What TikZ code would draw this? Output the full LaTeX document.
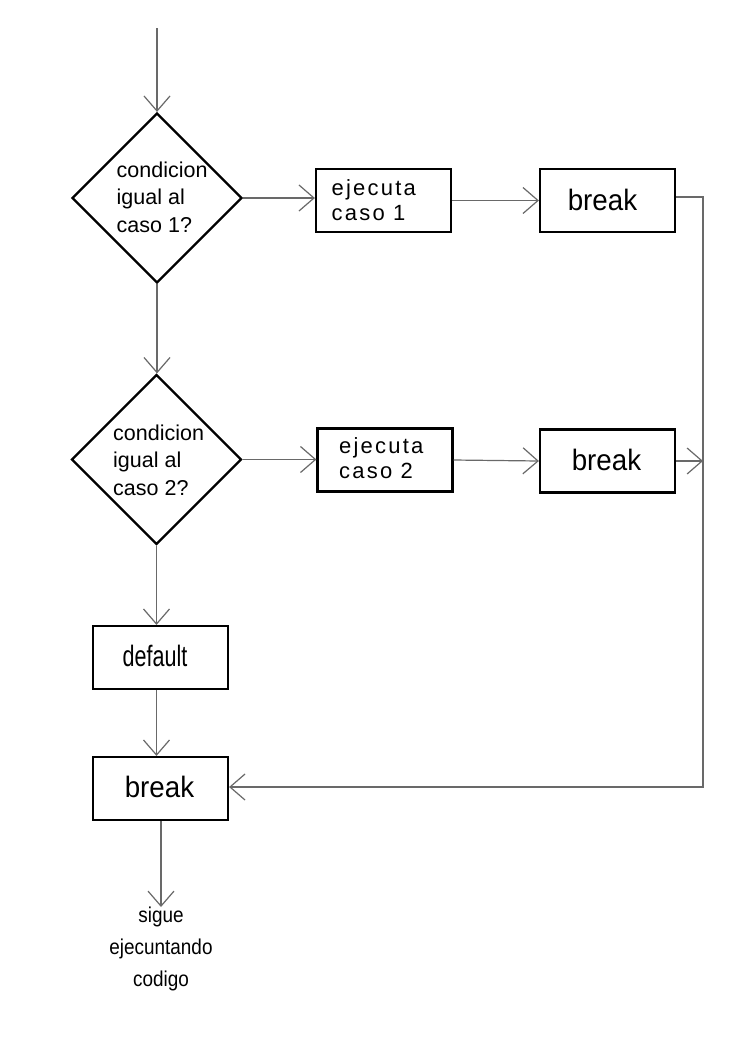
\documentclass[tikz,border=0pt]{standalone}
\usepackage{fontspec}
\setmainfont{Liberation Sans}
\newfontfamily\spacedfont[LetterSpace=10]{Liberation Sans}
\usetikzlibrary{shapes.geometric,arrows.meta}
\definecolor{linegray}{RGB}{105,105,105}
\begin{document}
\begin{tikzpicture}[x=1pt,y=-1pt,
  conn/.style={draw=linegray,line width=1.2pt},
  arr/.style={conn,-{Straight Barb[length=15pt,width=26pt,line width=1.2pt]}},
  decision/.style={diamond,draw,line width=2.2pt,minimum width=170pt,minimum height=170pt,inner sep=0pt,aspect=1},
  proc/.style={rectangle,draw,line width=2.2pt,minimum width=135pt,minimum height=63pt,inner sep=0pt},
  qtext/.style={inner sep=0pt,align=left,anchor=base west,font=\fontsize{21.5}{27.3}\selectfont},
  etext/.style={inner sep=0pt,align=left,anchor=base west,font=\spacedfont\fontsize{22}{25}\selectfont},
  btext/.style={inner sep=0pt,anchor=base,font=\fontsize{29.5}{34}\selectfont},
  endtext/.style={inner sep=0pt,align=center,anchor=north,font=\fontsize{21.5}{32}\selectfont}
]
\fill[white] (0,0) rectangle (745,1053);
\useasboundingbox (0,0) rectangle (745,1053);

% shapes
\node[decision] (d1) at (157,198) {};
\node[decision] (d2) at (156.5,459.5) {};
\node[proc] (e1) at (383.5,200.5) {};
\node[proc] (e2) at (385,460) {};
\node[proc] (b1) at (607.5,200.5) {};
\node[proc] (b2) at (607.5,461) {};
\node[proc] (def) at (160.5,657.5) {};
\node[proc] (b3) at (160.5,788.5) {};

% texts (base anchor = baseline of the last line)
\node[qtext] (q1) at (116.5,232) {condicion\\igual al\\caso 1?};
\node[qtext] (q2) at (113,495) {condicion\\igual al\\caso 2?};
\node[etext] (t1) at (331.5,220) {ejecuta\\caso 1};
\node[etext] (t2) at (339,478) {ejecuta\\caso 2};
\node[btext] (tb1) at (602.5,210) {\scalebox{0.94}[1]{break}};
\node[btext] (tb2) at (606.5,470) {\scalebox{0.94}[1]{break}};
\node[btext] (tb3) at (159.5,797) {\scalebox{0.94}[1]{break}};
\node[btext] (td) at (155,666) {\scalebox{0.73}[1]{default}};
\node[endtext] (fin) at (161,907) {\scalebox{0.88}[1]{sigue}\\\scalebox{0.88}[1]{ejecuntando}\\\scalebox{0.88}[1]{codigo}};

% connectors
\coordinate (start) at (157,28);
\coordinate (c1) at (703,197);
\coordinate (c2) at (703,787);
\coordinate (m2) at (703,461);
\draw[arr] (start) -- (d1.north);
\draw[arr] (d1.east) -- (d1.east -| e1.west);
\draw[arr] (e1.east) -- (b1.west);
\draw[arr] (d1.south) -- (d1.south |- d2.north);
\draw[arr] (d2.east) -- (d2.east -| e2.west);
\draw[arr] (e2.east) -- (b2.west);
\draw[arr] (b2.east) -- (m2);
\draw[arr] (b1.east |- c1) -- (c1) -- (c2) -- (c2 -| b3.east);
\draw[arr] (d2.south) -- (d2.south |- def.north);
\draw[arr] (def.south -| d2.south) -- (b3.north -| d2.south);
\draw[arr] (b3.south -| fin.north) -- (fin.north);
\end{tikzpicture}
\end{document}
